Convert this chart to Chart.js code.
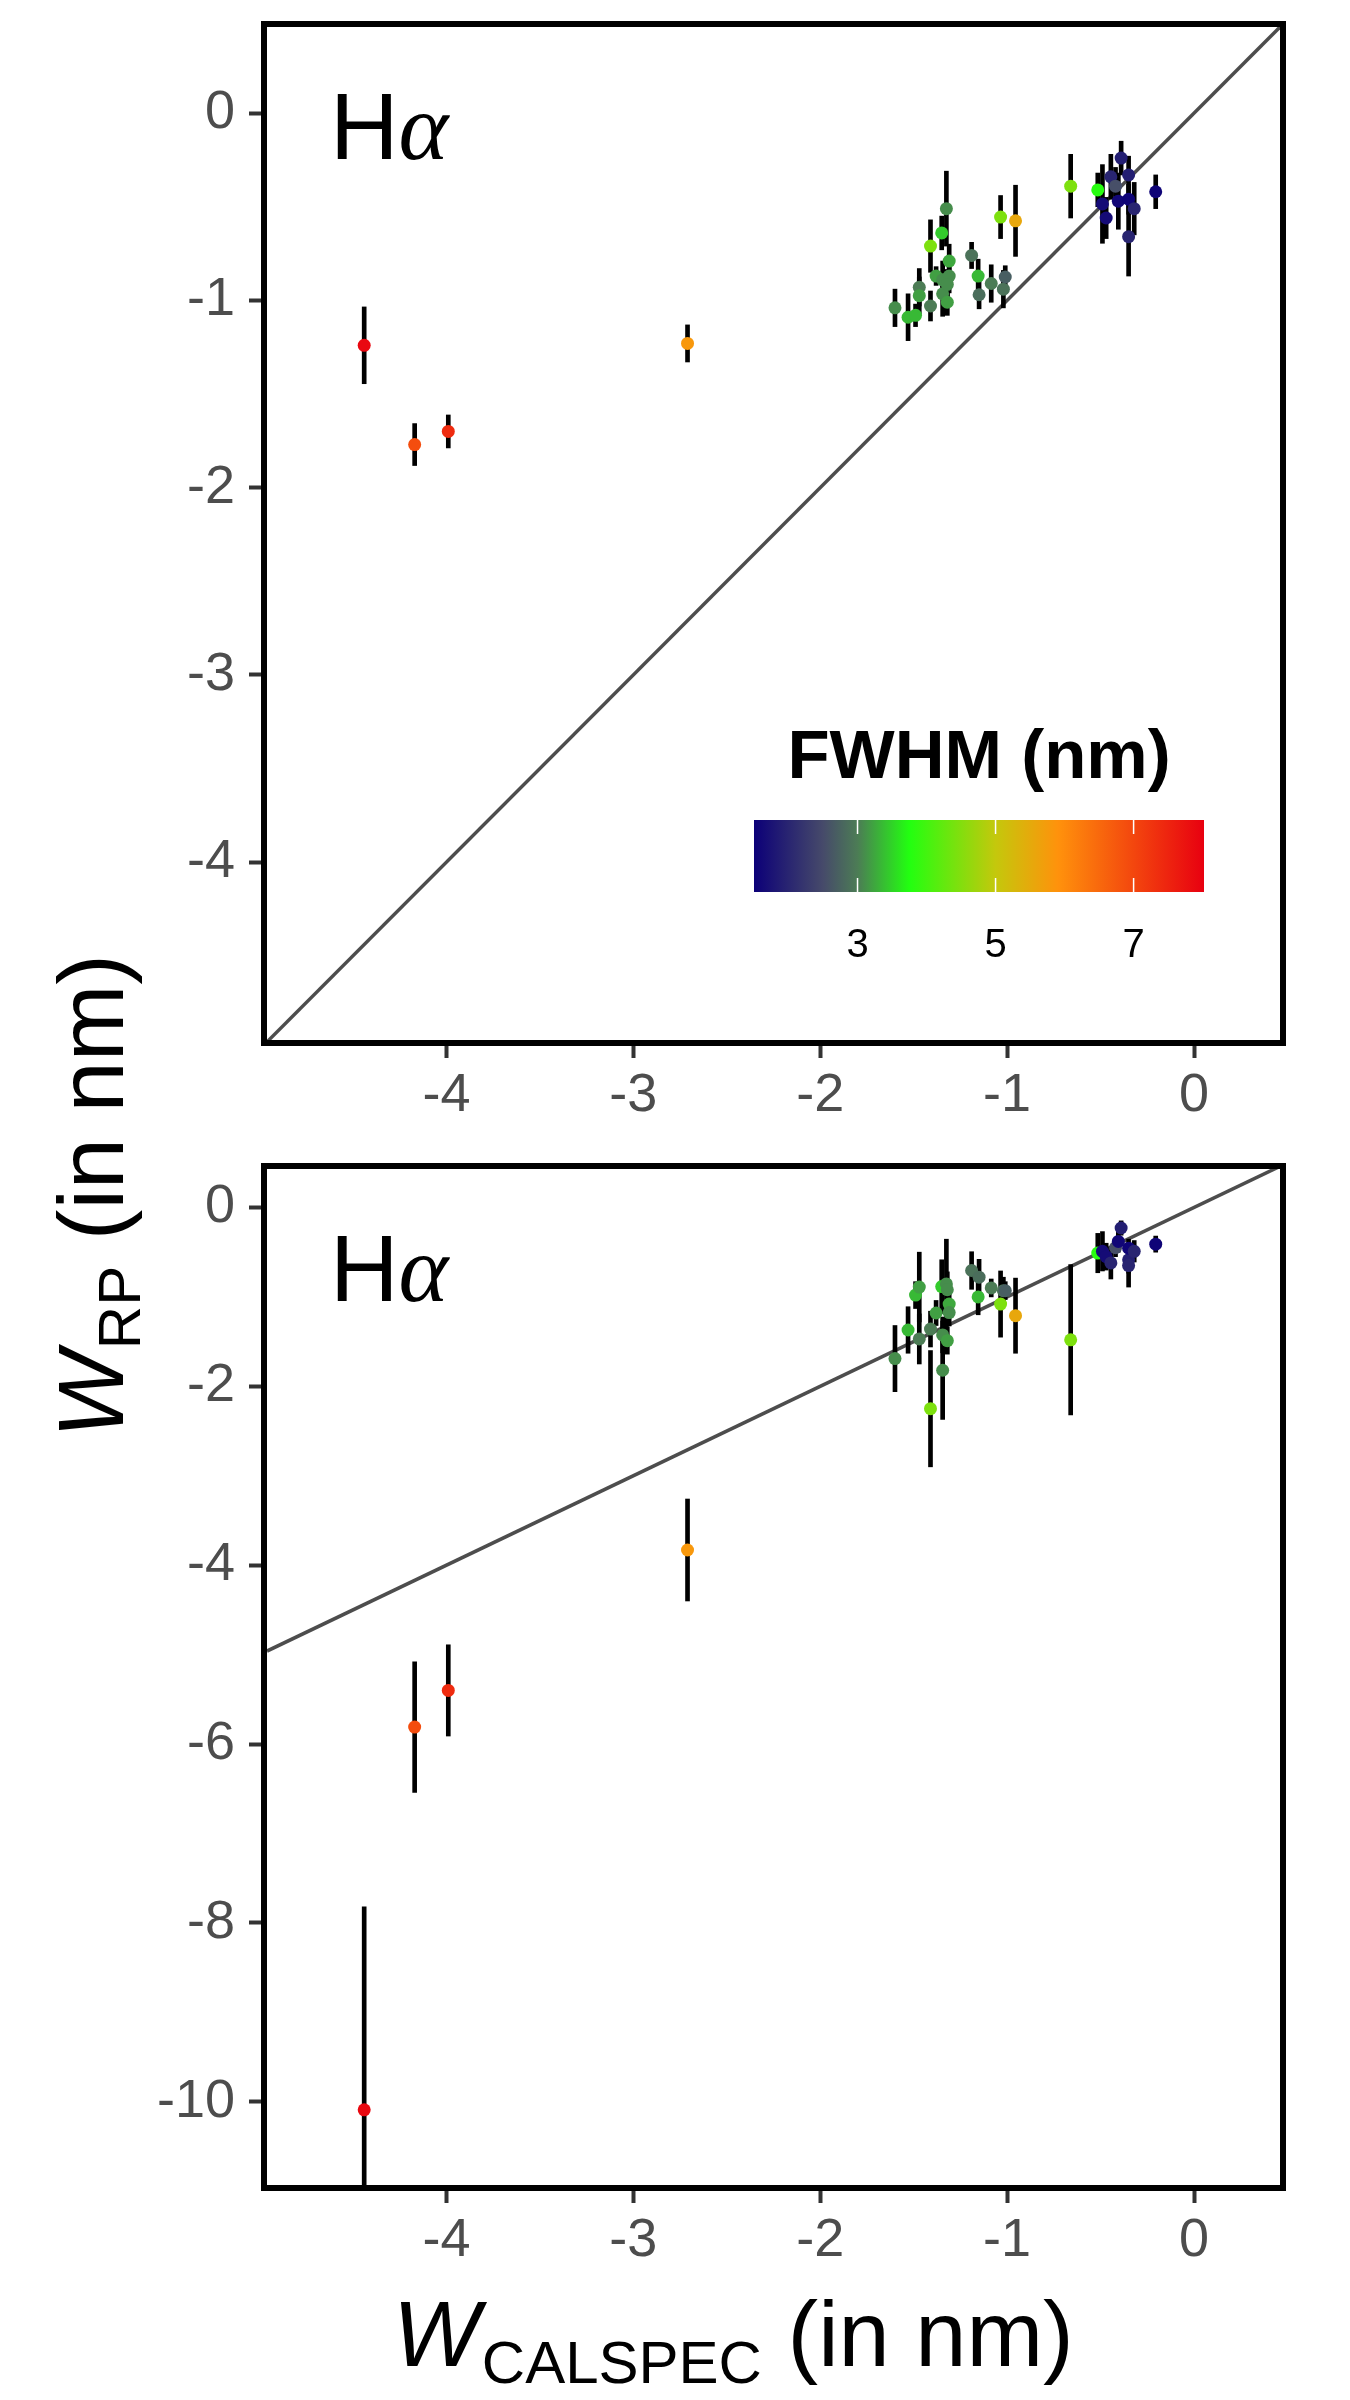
<!DOCTYPE html>
<html>
<head>
<meta charset="utf-8">
<title>W RP vs W CALSPEC</title>
<script src="https://cdn.jsdelivr.net/npm/chart.js@4.4.1/dist/chart.umd.min.js"></script>
<style>
  html, body { margin: 0; padding: 0; background: #fff; }
  body { width: 1350px; height: 2400px; position: relative; overflow: hidden; font-family: "Liberation Sans", Arial, sans-serif; }
  canvas { position: absolute; left: 0; width: 1350px; height: 1140px; }
  #topPanel { top: 0; }
  #bottomPanel { top: 1140px; }
  .axis-title { position: absolute; color: #000; font-size: 92px; line-height: 1; white-space: nowrap; }
  .axis-title i { font-style: italic; }
  .axis-title sub { font-size: 60px; vertical-align: baseline; position: relative; top: 17px; margin-left: 2px; }
  #xtitle { left: 393px; top: 2288px; }
  #ytitle { left: 91px; top: 1196px; transform: translate(-50%, -50%) rotate(-90deg); }
</style>
</head>
<body>
<canvas id="topPanel" width="1350" height="1140"></canvas>
<canvas id="bottomPanel" width="1350" height="1140"></canvas>
<div id="ytitle" class="axis-title"><i>W</i><sub>RP</sub> (in nm)</div>
<div id="xtitle" class="axis-title"><i>W</i><sub>CALSPEC</sub> (in nm)</div>

<script>
// equivalent widths (nm)
const X_CALSPEC = [-4.44, -4.17, -3.99, -2.71,
  -1.60, -1.53, -1.49, -1.47, -1.47, -1.41, -1.41, -1.38, -1.35, -1.345, -1.345, -1.325,
  -1.31, -1.31, -1.32, -1.32, -1.19, -1.155, -1.15, -1.085, -1.035, -1.02, -1.01, -0.955,
  -0.66, -0.515, -0.49, -0.47, -0.445, -0.42, -0.405, -0.39, -0.35, -0.35, -0.32, -0.35, -0.205];
const FWHM = [7.9, 6.9, 7.4, 5.8,
  3.1, 3.35, 3.35, 3.0, 3.2, 4.45, 3.0, 3.2, 3.45, 3.1, 3.1, 3.1,
  3.25, 3.1, 3.1, 3.2, 2.9, 3.35, 2.85, 3.0, 4.45, 2.9, 2.7, 5.55,
  4.45, 3.8, 1.65, 1.65, 2.0, 2.55, 1.6, 1.9, 1.9, 1.55, 2.0, 2.0, 1.55];

// top panel
const Y_RP_TOP = [-1.24, -1.77, -1.70, -1.23,
  -1.04, -1.09, -1.08, -0.93, -0.975, -0.71, -1.03, -0.87, -0.64, -0.89, -0.965, -0.51,
  -0.79, -0.87, -0.915, -1.01, -0.76, -0.87, -0.97, -0.91, -0.555, -0.94, -0.875, -0.575,
  -0.39, -0.41, -0.485, -0.56, -0.34, -0.39, -0.47, -0.24, -0.33, -0.46, -0.51, -0.66, -0.42];
const ERR_TOP = [0.205, 0.112, 0.088, 0.099,
  0.10, 0.125, 0.06, 0.10, 0.10, 0.14, 0.08, 0.05, 0.09, 0.10, 0.12, 0.20,
  0.09, 0.09, 0.08, 0.07, 0.07, 0.09, 0.075, 0.10, 0.115, 0.10, 0.06, 0.19,
  0.17, 0.09, 0.21, 0.11, 0.12, 0.10, 0.15, 0.09, 0.10, 0.08, 0.14, 0.21, 0.09];

// bottom panel
const Y_RP_BOTTOM = [-10.09, -5.81, -5.40, -3.83,
  -1.69, -1.37, -0.98, -1.47, -0.89, -2.25, -1.36, -1.18, -0.885, -1.82, -1.425, -0.855,
  -1.08, -1.175, -0.92, -1.49, -0.705, -1.00, -0.78, -0.90, -1.08, -0.93, -0.93, -1.21,
  -1.48, -0.51, -0.49, -0.55, -0.62, -0.45, -0.38, -0.23, -0.585, -0.455, -0.49, -0.65, -0.41];
const ERR_BOTTOM = [2.27, 0.73, 0.51, 0.57,
  0.37, 0.26, 0.15, 0.28, 0.39, 0.65, 0.20, 0.14, 0.30, 0.55, 0.20, 0.50,
  0.15, 0.15, 0.20, 0.15, 0.21, 0.20, 0.20, 0.10, 0.37, 0.15, 0.10, 0.42,
  0.84, 0.22, 0.22, 0.15, 0.18, 0.10, 0.12, 0.08, 0.15, 0.10, 0.12, 0.24, 0.09];

const X_TICKS = [-4, -3, -2, -1, 0];
const Y_TICKS_TOP = [-4, -3, -2, -1, 0];
const Y_TICKS_BOTTOM = [-10, -8, -6, -4, -2, 0];
const FWHM_TICKS = [3, 5, 7];

const X_RANGE = [-4.96, 0.46];
const Y_RANGE_TOP = [-4.95, 0.46];
const Y_RANGE_BOTTOM = [-10.93, 0.43];
const FWHM_RANGE = [1.5, 8.02];

// colour scale for FWHM
const FWHM_COLOURS = [
  [1.5, '#0c0078'], [2.5, '#464a6a'], [3.0, '#4c7c55'], [3.75, '#22ff10'],
  [5.0, '#c4c80c'], [5.9, '#ff920c'], [8.02, '#e80010']
];

function hexToRgb(h) {
  const n = parseInt(h.slice(1), 16);
  return [(n >> 16) & 255, (n >> 8) & 255, n & 255];
}

function fwhmColour(v) {
  const s = FWHM_COLOURS;
  if (v <= s[0][0]) return s[0][1];
  for (let i = 1; i < s.length; i++) {
    if (v <= s[i][0]) {
      const t = (v - s[i - 1][0]) / (s[i][0] - s[i - 1][0]);
      const a = hexToRgb(s[i - 1][1]), b = hexToRgb(s[i][1]);
      const c = a.map((x, k) => Math.round(x + (b[k] - x) * t));
      return `rgb(${c[0]},${c[1]},${c[2]})`;
    }
  }
  return s[s.length - 1][1];
}

// frame, panel label and the colour bar
const panelDeco = {
  id: 'panelDeco',
  afterDraw(chart, args, opts) {
    const { ctx, chartArea: a } = chart;
    ctx.save();
    ctx.strokeStyle = '#000';
    ctx.lineWidth = 6;
    ctx.strokeRect(a.left - 3, a.top - 3, a.width + 6, a.height + 6);

    ctx.fillStyle = '#000';
    ctx.textBaseline = 'alphabetic';
    ctx.textAlign = 'left';
    ctx.font = '95px "Liberation Sans", Arial';
    const lx = a.left + 63, ly = a.top + 132;
    ctx.fillText('H', lx, ly);
    const hw = ctx.measureText('H').width;
    ctx.font = 'italic 95px "Liberation Serif", serif';
    ctx.fillText('α', lx + hw, ly);

    if (opts.legend) {
      const bx0 = a.left + 487, bx1 = a.left + 937;
      const by0 = a.top + 793, by1 = a.top + 865;
      const span = FWHM_RANGE[1] - FWHM_RANGE[0];
      const toPx = v => bx0 + (v - FWHM_RANGE[0]) / span * (bx1 - bx0);
      const grad = ctx.createLinearGradient(bx0, 0, bx1, 0);
      FWHM_COLOURS.forEach(([v, c]) => grad.addColorStop(Math.min(1, Math.max(0, (v - FWHM_RANGE[0]) / span)), c));
      ctx.fillStyle = grad;
      ctx.fillRect(bx0, by0, bx1 - bx0, by1 - by0);

      ctx.strokeStyle = '#fff';
      ctx.lineWidth = 1.5;
      FWHM_TICKS.forEach(t => {
        const px = toPx(t);
        ctx.beginPath();
        ctx.moveTo(px, by0); ctx.lineTo(px, by0 + 14);
        ctx.moveTo(px, by1 - 14); ctx.lineTo(px, by1);
        ctx.stroke();
      });

      ctx.fillStyle = '#000';
      ctx.textAlign = 'center';
      ctx.font = '40px "Liberation Sans", Arial';
      FWHM_TICKS.forEach(t => ctx.fillText(String(t), toPx(t), a.top + 930));
      ctx.font = 'bold 69px "Liberation Sans", Arial';
      ctx.fillText('FWHM (nm)', (bx0 + bx1) / 2, a.top + 751);
    }
    ctx.restore();
  }
};

function axisOptions(range, ticks, fit) {
  return {
    type: 'linear',
    min: range[0],
    max: range[1],
    offset: false,
    beginAtZero: false,
    border: { display: false },
    grid: { display: true, drawOnChartArea: false, drawTicks: true, offset: false,
            tickLength: 18, tickWidth: 4, tickColor: '#333' },
    ticks: { font: { family: '"Liberation Sans", Arial', size: 54 }, color: '#4d4d4d',
             padding: 14, autoSkip: false, maxRotation: 0, callback: v => String(v) },
    afterBuildTicks: s => { s.ticks = ticks.map(v => ({ value: v })); },
    afterFit: s => {
      fit(s);
      // labels never reach the panel edges, so no extra room is needed
      s.paddingTop = 0; s.paddingBottom = 0; s.paddingLeft = 0; s.paddingRight = 0;
    }
  };
}

function makePanel(id, yVals, yErr, yRange, yTicks, padTop, xAxisHeight, legend) {
  const points = X_CALSPEC.map((x, i) => ({ x, y: yVals[i] }));
  const bars = X_CALSPEC.map((x, i) => ({ x, y: [yVals[i] - yErr[i], yVals[i] + yErr[i]] }));
  const xAxis = axisOptions(X_RANGE, X_TICKS, s => { s.height = xAxisHeight; });
  xAxis.ticks.padding = 6;
  return new Chart(document.getElementById(id), {
    type: 'scatter',
    data: {
      datasets: [
        { type: 'scatter', data: points, pointBackgroundColor: FWHM.map(fwhmColour),
          pointBorderWidth: 0, pointRadius: 6.5, order: 0 },
        { type: 'bar', data: bars, backgroundColor: '#000', barThickness: 4,
          grouped: false, borderWidth: 0, order: 1 },
        { type: 'line', data: X_RANGE.map(v => ({ x: v, y: v })), borderColor: '#4d4d4d',
          borderWidth: 3.5, pointRadius: 0, fill: false, order: 2 }
      ]
    },
    options: {
      responsive: false,
      animation: false,
      devicePixelRatio: 1,
      events: [],
      layout: { padding: { left: 0, right: 70, top: padTop, bottom: 0 } },
      plugins: { legend: { display: false }, tooltip: { enabled: false }, panelDeco: { legend } },
      scales: {
        x: xAxis,
        y: axisOptions(yRange, yTicks, s => { s.width = 267; })
      }
    },
    plugins: [panelDeco]
  });
}

makePanel('topPanel', Y_RP_TOP, ERR_TOP, Y_RANGE_TOP, Y_TICKS_TOP, 27, 100, true);
makePanel('bottomPanel', Y_RP_BOTTOM, ERR_BOTTOM, Y_RANGE_BOTTOM, Y_TICKS_BOTTOM, 29, 95, false);
</script>
</body>
</html>
